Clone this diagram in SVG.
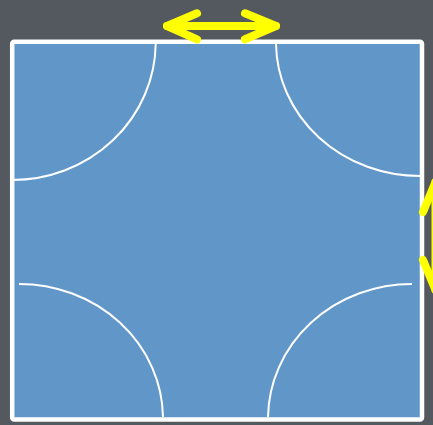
<svg xmlns="http://www.w3.org/2000/svg" width="433" height="425" viewBox="0 0 433 425">
<style>
.arc{fill:none;stroke:#ffffff;stroke-width:2}
.arrow{fill:none;stroke:#ffff00;stroke-width:8;stroke-linecap:round;stroke-linejoin:round}
</style>
<rect x="0" y="0" width="433" height="425" fill="#545960"/>
<g id="square">
<rect x="12.2" y="41.8" width="409.8" height="377.7" rx="2" fill="#6196c9" stroke="#ffffff" stroke-width="4.5"/>
</g>
<g id="arcs">
<path class="arc" d="M155.7,44 A143.7,138 0 0 1 12,180"/>
<path class="arc" d="M276,44 A144,134 0 0 0 420,176"/>
<path class="arc" d="M19,284 A144,135 0 0 1 163,417"/>
<path class="arc" d="M412,284 A144,135 0 0 0 268,417"/>
</g>
<g id="connectors">
<g id="arrow-top" class="arrow">
<path d="M167,26 H276"/>
<path d="M197,13.3 L167,26 L197,39.3"/>
<path d="M245,13.3 L276,26 L245,39.3"/>
</g>
<g id="arrow-right" class="arrow">
<path d="M435.5,182 V290"/>
<path d="M423,212 L435.5,182 L448,212"/>
<path d="M423,260 L435.5,290 L448,260"/>
</g>
</g>
</svg>
